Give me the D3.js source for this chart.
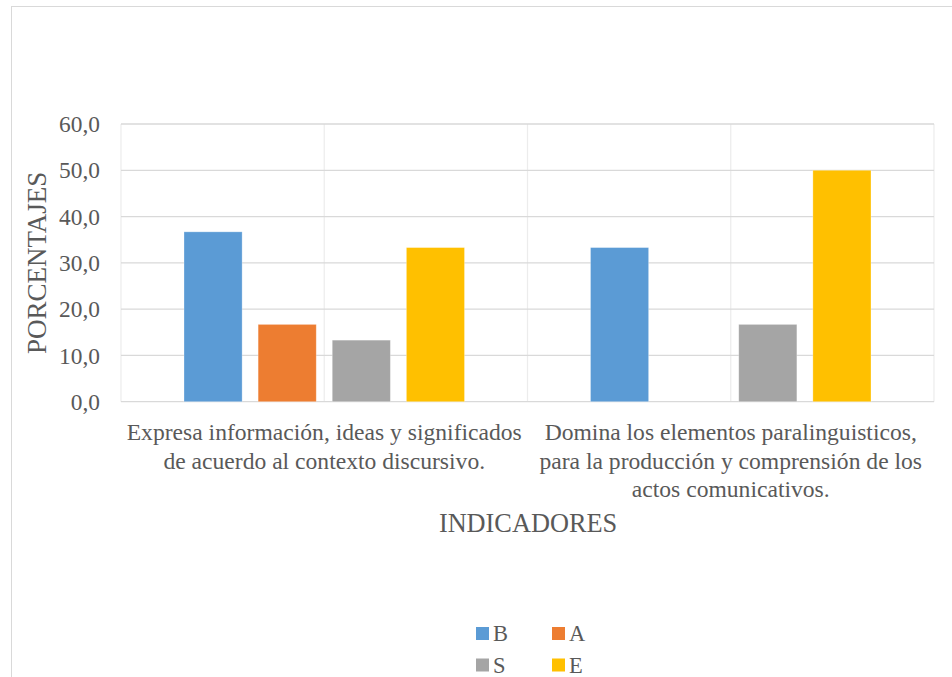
<!DOCTYPE html>
<html>
<head>
<meta charset="utf-8">
<script src="https://cdn.jsdelivr.net/npm/d3@7/dist/d3.min.js"></script>
<style>
  html, body { margin: 0; padding: 0; background: #fff; }
  svg { display: block; font-family: "Times New Roman", "Liberation Serif", serif; }
</style>
</head>
<body>
<svg id="chart" width="952" height="677"></svg>
<script>
// Indicator categories (each label split into its display lines)
const categories = [
  ["Expresa información, ideas y significados", "de acuerdo al contexto discursivo."],
  ["Domina los elementos paralinguisticos,", "para la producción y comprensión de los", "actos comunicativos."]
];
const seriesNames = ["B", "A", "S", "E"];
const seriesColors = ["#5B9BD5", "#ED7D31", "#A5A5A5", "#FFC000"];
// Percentages per series, one value per category
const valuesB = [36.7, 33.3];
const valuesA = [16.7, 0.0];
const valuesS = [13.3, 16.7];
const valuesE = [33.3, 50.0];
const yTicks = [0, 10, 20, 30, 40, 50, 60];
const yTitle = "PORCENTAJES";
const xTitle = "INDICADORES";

const series = [valuesB, valuesA, valuesS, valuesE];

const svg = d3.select("#chart");

// chart frame
svg.append("rect")
  .attr("x", 11.5).attr("y", 6.5)
  .attr("width", 960).attr("height", 700)
  .attr("fill", "#fff").attr("stroke", "#d9d9d9").attr("stroke-width", 1);

const plot = { left: 121, right: 934, top: 124, bottom: 401.7 };

const y = d3.scaleLinear().domain([0, 60]).range([plot.bottom, plot.top]);
const x0 = d3.scaleBand().domain(d3.range(categories.length))
  .range([plot.left, plot.right]).paddingInner(0).paddingOuter(0);
// clustered bars: 4 bars separated by small gaps
const groupWidth = x0.bandwidth() * 0.69;
const x1 = d3.scaleBand().domain(d3.range(seriesNames.length))
  .range([0, groupWidth]).paddingInner(0.216).paddingOuter(0);

// vertical gridlines at category edges and centres
const xGrid = d3.scaleLinear().domain([0, categories.length]).range([plot.left, plot.right]);
svg.append("g").selectAll("line")
  .data(d3.range(0, categories.length + 0.01, 0.5))
  .join("line")
  .attr("x1", d => xGrid(d)).attr("x2", d => xGrid(d))
  .attr("y1", plot.top).attr("y2", plot.bottom)
  .attr("stroke", "#ececec").attr("stroke-width", 1.2);

// horizontal gridlines
svg.append("g").selectAll("line")
  .data(yTicks)
  .join("line")
  .attr("x1", plot.left).attr("x2", plot.right)
  .attr("y1", d => y(d)).attr("y2", d => y(d))
  .attr("stroke", "#d9d9d9").attr("stroke-width", 1.3);

// bars
const barGroups = svg.append("g").selectAll("g")
  .data(categories.map((c, i) => i))
  .join("g")
  .attr("transform", i => `translate(${x0(i) + (x0.bandwidth() - groupWidth) / 2},0)`);

barGroups.selectAll("rect")
  .data(i => series.map((s, k) => ({ k, v: s[i] })))
  .join("rect")
  .attr("x", d => x1(d.k))
  .attr("width", x1.bandwidth())
  .attr("y", d => y(d.v))
  .attr("height", d => y(0) - y(d.v))
  .attr("fill", d => seriesColors[d.k])
  .attr("stroke", "#fff").attr("stroke-opacity", 0.35).attr("stroke-width", 0.8);

// y axis tick labels
const fmt = v => v.toFixed(1).replace(".", ",");
svg.append("g").selectAll("text")
  .data(yTicks)
  .join("text")
  .attr("x", 100).attr("y", d => y(d))
  .attr("dy", "0.35em")
  .attr("text-anchor", "end")
  .attr("fill", "#595959")
  .attr("font-size", 23.4)
  .text(fmt);

// category labels
const catG = svg.append("g").selectAll("text")
  .data(categories)
  .join("text")
  .attr("text-anchor", "middle")
  .attr("fill", "#595959")
  .attr("font-size", 23.6);
catG.each(function(lines, i) {
  d3.select(this).selectAll("tspan")
    .data(lines)
    .join("tspan")
    .attr("x", x0(i) + x0.bandwidth() / 2)
    .attr("y", (d, j) => 440 + j * 28.5)
    .text(d => d);
});

// axis titles
svg.append("text")
  .attr("transform", `translate(46,${(plot.top + plot.bottom) / 2}) rotate(-90)`)
  .attr("text-anchor", "middle")
  .attr("fill", "#595959")
  .attr("font-size", 27)
  .text(yTitle);

svg.append("text")
  .attr("x", (plot.left + plot.right) / 2 + 0.5).attr("y", 532)
  .attr("text-anchor", "middle")
  .attr("fill", "#595959")
  .attr("font-size", 26.3)
  .text(xTitle);

// legend (2 x 2)
const legend = svg.append("g").selectAll("g")
  .data(seriesNames)
  .join("g")
  .attr("transform", (d, i) => `translate(${476 + (i % 2) * 76},${627 + Math.floor(i / 2) * 31.5})`);
legend.append("rect")
  .attr("width", 13).attr("height", 13)
  .attr("fill", (d, i) => seriesColors[i]);
legend.append("text")
  .attr("x", 17).attr("y", 6.5).attr("dy", "0.35em")
  .attr("fill", "#595959")
  .attr("font-size", 22.5)
  .text(d => d);
</script>
</body>
</html>
